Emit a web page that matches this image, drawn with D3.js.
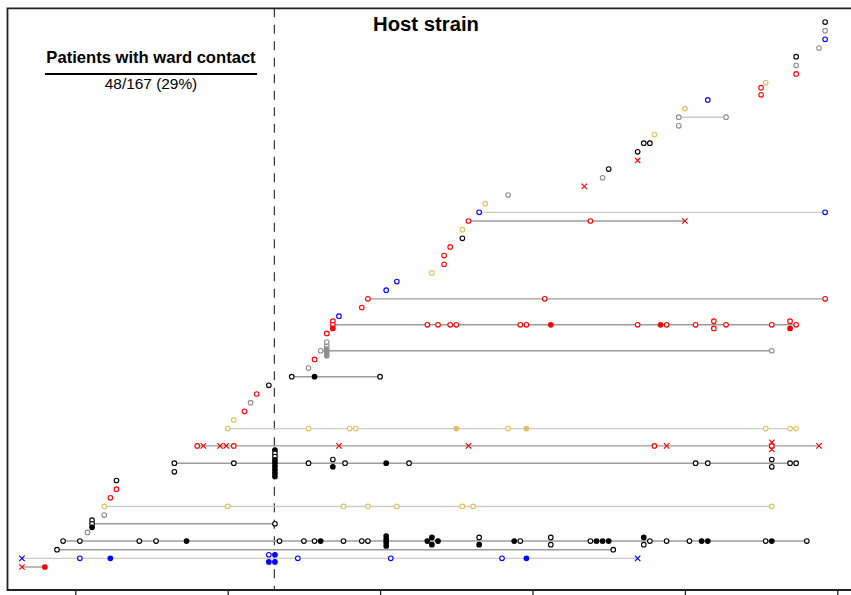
<!DOCTYPE html>
<html lang="en">
<head>
<meta charset="UTF-8">
<title>Host strain</title>
<script src="https://d3js.org/d3.v7.min.js"></script>
<style>
    body { margin: 0; background: #fff; }
    text { font-family: "Liberation Sans", Arial, Helvetica, sans-serif; }
</style>
</head>
<body>
<div id="chart"></div>
<script>
// strain of each patient row (bottom row first): K black, G grey, R red, B blue, Y gold
const rowStrain = [
    "R","B","K","K","G","K","G","Y","R","R",
    "K","K","K","","R","","Y","Y","R","G",
    "R","K","K","G","R","G","G","R","R","B",
    "R","R","B","B","Y","R","R","R","K","Y",
    "R","B","Y","G","R","G","K","R","K","K",
    "Y","G","G","Y","B","R","Y","R","G","K",
    "G","B","G","K"
];

// samples per row: day followed by mark(s); o open, f filled, x cross.
// several marks on one day are stacked (top to bottom)
const rowSamples = [
    "-35x -20f",
    "-35x 3o 23f 127of 131ff 146o 207o 280o 296f 369x",
    "-12o 353o",
    "-8o 3o 42o 53o 73f 134o 150o 157o 161f 176o 188o 192o 204ffff 231f 234ff 238f 265of 288f 292o 312oo 338o 342f 346f 350f 373fo 377o 388o 403o 411f 415f 453o 457f 480o",
    "8o",
    "11oof 131o",
    "19o",
    "19o 100o 176o 192o 211o 254o 261o 457o",
    "23o",
    "27o",
    "27o",
    "65o",
    "65o 104o 131fooffffff 153o 169of 177o 204f 219o 407o 415o 457oo 469o 473o",
    "",
    "80o 84x 95x 99x 104o 173x 258x 380o 388x 457xox 488x",
    "",
    "100o 153o 180o 184o 250f 284o 296f 453o 469o 473o",
    "104o",
    "111o",
    "115o",
    "119o",
    "127o",
    "142o 157f 200o",
    "153o",
    "157o",
    "161o 165offf 457o",
    "165o",
    "165o",
    "169oof 231o 238o 246o 250o 292o 296o 312f 369o 384f 388o 407o 419oo 427o 457o 469of 473o",
    "173o",
    "188o",
    "192o 308o 492o",
    "204o",
    "211o",
    "234o",
    "242o",
    "242o",
    "246o",
    "254o",
    "254o",
    "258o 338o 400x",
    "265o 492o",
    "269o",
    "284o",
    "334x",
    "346o",
    "350o",
    "369x",
    "369o",
    "373o 377o",
    "380o",
    "396o",
    "396o 427o",
    "400o",
    "415o",
    "450oo",
    "453o",
    "473o",
    "473o",
    "473o",
    "488o",
    "492o",
    "492o",
    "492o"
];

// rows whose follow-up line is drawn faint
const faintRows = [2, 8, 17, 42, 53];

const xTicks = [0, 100, 200, 300, 400, 500];
const contactDay = 130.6;
const contactPatients = 48;
const totalPatients = 167;

const strainColour = { K: "#000000", G: "#8e8e8e", R: "#ff0000", B: "#0000ff", Y: "#e0c062" };

const W = 851, H = 595;
const svg = d3.select("#chart").append("svg")
    .attr("width", W)
    .attr("height", H);

// scales: days on x, patient row on y
const x = d3.scaleLinear().domain([0, 500]).range([75.3, 837.3]);
const y = d3.scaleLinear().domain([1, 64]).range([567, 22.05]);

const frameLeft = 7.5, frameTop = 8.3, frameBottom = 590;

// parse the sample strings
const rows = rowSamples.map((s, i) => {
    const pts = [];
    s.split(" ").filter(t => t).forEach(t => {
        const m = t.match(/^(-?\d+(?:\.\d+)?)([ofx]+)$/);
        const day = +m[1], kinds = m[2].split("");
        const n = kinds.length;
        const step = n > 1 ? Math.max(3.3, 7.2 / (n - 1)) : 0;
        kinds.forEach((k, j) => pts.push({ day: day, kind: k, dy: (j - (n - 1) / 2) * step }));
    });
    return { row: i + 1, strain: rowStrain[i], pts: pts };
});

// dashed line at ward contact
svg.append("line")
    .attr("x1", x(contactDay)).attr("x2", x(contactDay))
    .attr("y1", frameTop).attr("y2", frameBottom)
    .attr("stroke", "#222")
    .attr("stroke-width", 1.1)
    .attr("stroke-dasharray", "9,7.5");

// follow-up lines
svg.append("g").selectAll("line")
    .data(rows.filter(r => r.pts.length > 1))
    .enter()
    .append("line")
    .attr("x1", d => x(d3.min(d.pts, p => p.day)))
    .attr("x2", d => x(d3.max(d.pts, p => p.day)))
    .attr("y1", d => y(d.row))
    .attr("y2", d => y(d.row))
    .attr("stroke", d => faintRows.includes(d.row) ? "#cccccc" : "#9c9c9c")
    .attr("stroke-width", 1.4);

// sample marks
const marks = svg.append("g");
rows.forEach(r => {
    const col = strainColour[r.strain];
    r.pts.forEach(p => {
        const cx = x(p.day), cy = y(r.row) + p.dy;
        if (p.kind === "x") {
            const s = 2.7;
            marks.append("path")
                .attr("d", `M${cx - s},${cy - s}L${cx + s},${cy + s}M${cx - s},${cy + s}L${cx + s},${cy - s}`)
                .attr("stroke", col)
                .attr("stroke-width", 1.2)
                .attr("fill", "none");
        } else {
            marks.append("circle")
                .attr("cx", cx).attr("cy", cy)
                .attr("r", 2.3)
                .attr("fill", p.kind === "f" ? col : "#fff")
                .attr("stroke", col)
                .attr("stroke-width", 1.1);
        }
    });
});

// frame
svg.append("path")
    .attr("d", `M${W + 5},${frameTop}H${frameLeft}V${frameBottom}H${W + 5}`)
    .attr("fill", "none")
    .attr("stroke", "#222")
    .attr("stroke-width", 1.8);

// x axis ticks (labels fall below the picture)
svg.append("g")
    .attr("transform", `translate(0,${frameBottom})`)
    .call(d3.axisBottom(x).tickValues(xTicks).tickSize(9).tickFormat(""))
    .call(g => g.select(".domain").remove())
    .selectAll("line")
    .attr("stroke", "#222")
    .attr("stroke-width", 1.3);

// title
svg.append("text")
    .attr("x", 426).attr("y", 31)
    .attr("text-anchor", "middle")
    .attr("font-size", "20.3px")
    .attr("font-weight", "bold")
    .text("Host strain");

// ward contact summary
svg.append("text")
    .attr("x", 151).attr("y", 62.5)
    .attr("text-anchor", "middle")
    .attr("font-size", "16.6px")
    .attr("font-weight", "bold")
    .text("Patients with ward contact");
svg.append("line")
    .attr("x1", 45).attr("x2", 257)
    .attr("y1", 74).attr("y2", 74)
    .attr("stroke", "#000")
    .attr("stroke-width", 2.2);
svg.append("text")
    .attr("x", 151).attr("y", 89)
    .attr("text-anchor", "middle")
    .attr("font-size", "15.4px")
    .text(`${contactPatients}/${totalPatients} (${Math.round(100 * contactPatients / totalPatients)}%)`);
</script>
</body>
</html>
